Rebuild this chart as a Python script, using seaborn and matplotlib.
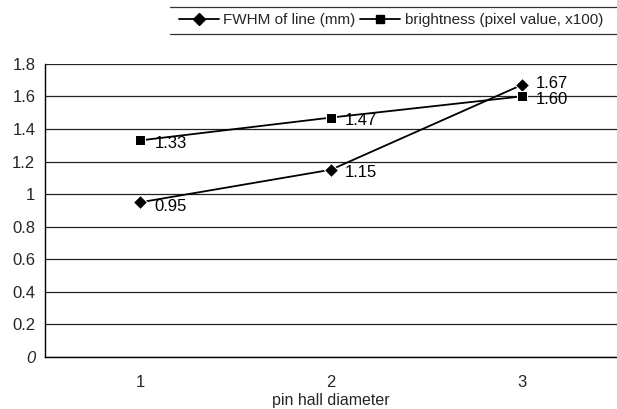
import matplotlib
matplotlib.use("Agg")
import matplotlib.pyplot as plt
import seaborn as sns
import pandas as pd
from matplotlib.lines import Line2D

categories = [1, 2, 3]
fwhm = [0.95, 1.15, 1.67]
brightness = [1.33, 1.47, 1.60]
series_names = ["FWHM of line (mm)", "brightness (pixel value, x100)"]
y_ticks = [0, 0.2, 0.4, 0.6, 0.8, 1, 1.2, 1.4, 1.6, 1.8]
y_tick_labels = ["0", "0.2", "0.4", "0.6", "0.8", "1", "1.2", "1.4", "1.6", "1.8"]

df = pd.DataFrame({
    "x": categories * 2,
    "y": fwhm + brightness,
    "series": [series_names[0]] * 3 + [series_names[1]] * 3,
})

sns.set_theme(style="white")
plt.rcParams["font.family"] = ["Liberation Sans", "DejaVu Sans"]

fig = plt.figure(figsize=(6.17, 4.09), dpi=100)
ax = fig.add_axes([0.073, 0.127, 0.927, 0.717])

sns.lineplot(data=df, x="x", y="y", style="series", hue="series",
             palette=["black", "black"], markers={series_names[0]: "D", series_names[1]: "s"},
             dashes=False, markersize=7, linewidth=1.3, ax=ax, legend=False)

offsets = {series_names[0]: [(10, -3), (10, -2), (10, 1)],
           series_names[1]: [(10, -2), (10, -2), (10, -2)]}
for name, vals in zip(series_names, [fwhm, brightness]):
    for (xv, yv), off in zip(zip(categories, vals), offsets[name]):
        ax.annotate(f"{yv:.2f}", (xv, yv), xytext=off, textcoords="offset points",
                    ha="left", va="center", fontsize=12, color="black")

ax.set_xlim(0.5, 3.5)
ax.set_ylim(0, 1.8)
ax.set_xticks(categories)
ax.set_xticklabels([str(c) for c in categories], fontsize=12)
ax.set_yticks(y_ticks)
ax.set_yticklabels(y_tick_labels, fontsize=12)
ax.get_yticklabels()[0].set_style("italic")
ax.set_xlabel("pin hall diameter", fontsize=11.5, labelpad=2)
ax.set_ylabel("")
ax.tick_params(axis="y", length=0, pad=7)
ax.tick_params(axis="x", length=0, pad=13)
for yv in y_ticks:
    ax.axhline(yv, color="#222222", linewidth=0.9, zorder=0)
for s in ["top", "right"]:
    ax.spines[s].set_visible(False)
ax.spines["left"].set_color("black")
ax.spines["bottom"].set_color("black")
ax.spines["left"].set_linewidth(1.0)
ax.spines["bottom"].set_linewidth(1.0)

handles = [Line2D([], [], color="black", marker="D", markersize=6, linewidth=1.3),
           Line2D([], [], color="black", marker="s", markersize=6, linewidth=1.3)]
leg = fig.legend(handles, series_names, loc="center left", bbox_to_anchor=(0.268, 0.95),
                 ncol=2, frameon=False, fontsize=11, handlelength=2.6, handletextpad=0.3,
                 columnspacing=0.3)
fig.add_artist(Line2D([0.275, 1.0], [0.982, 0.982], color="#333333", linewidth=0.9))
fig.add_artist(Line2D([0.275, 1.0], [0.918, 0.918], color="#333333", linewidth=0.9))

fig.savefig("out.png", dpi=100)
